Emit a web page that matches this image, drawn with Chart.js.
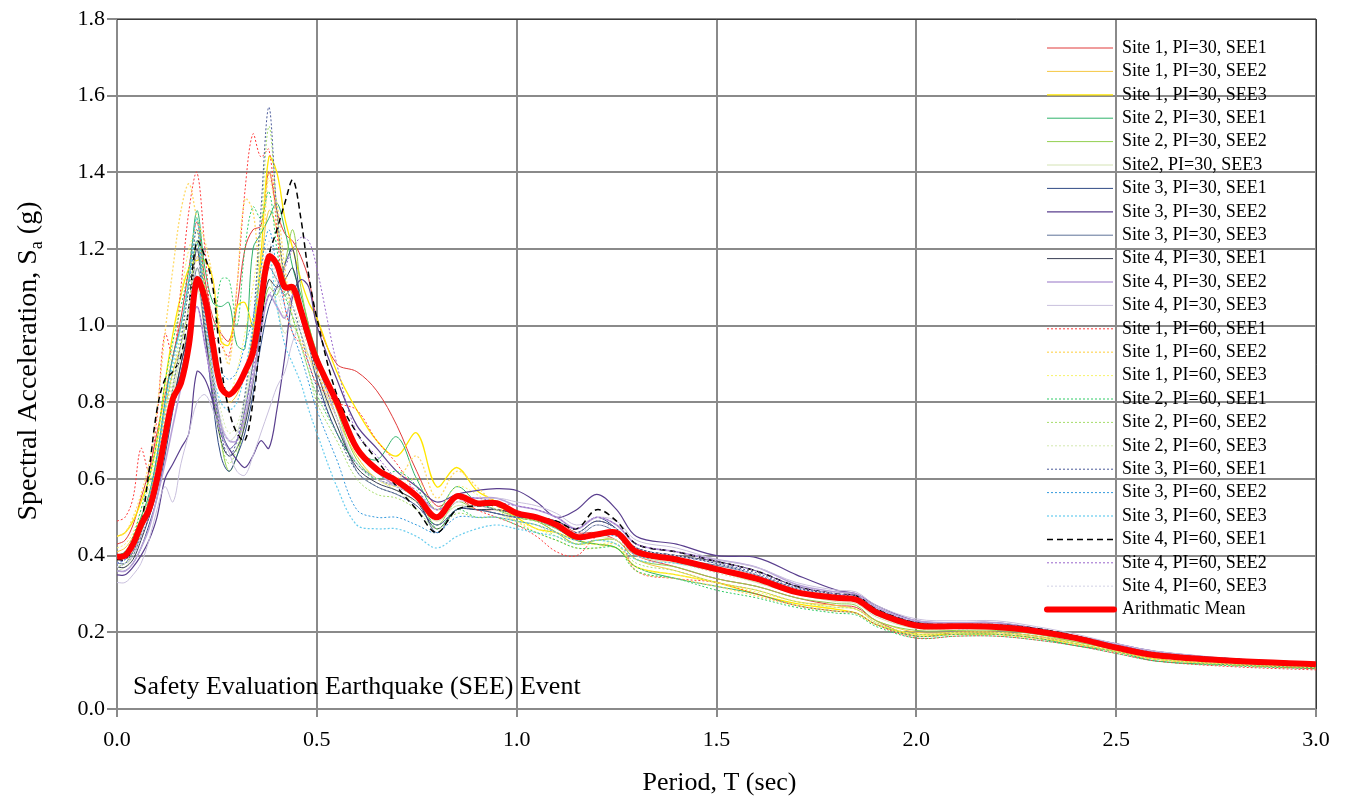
<!DOCTYPE html>
<html>
<head>
<meta charset="utf-8">
<script src="https://cdn.jsdelivr.net/npm/chart.js@4.4.0/dist/chart.umd.min.js"></script>
<style>
  html, body { margin: 0; padding: 0; background: #ffffff; }
  #wrap { width: 1350px; height: 797px; }
</style>
</head>
<body>
<div id="wrap"><canvas id="saChart" width="1350" height="797"></canvas></div>
<script>
// Period values (sec) shared by every spectrum
const periods = [0, 0.02, 0.04, 0.06, 0.08, 0.10, 0.12, 0.14, 0.16, 0.18, 0.20, 0.22, 0.24, 0.26, 0.28, 0.30, 0.32, 0.34, 0.36, 0.38,
    0.40, 0.42, 0.44, 0.46, 0.48, 0.50, 0.55, 0.60, 0.65, 0.70, 0.75, 0.80, 0.85, 0.90, 0.95, 1.00, 1.05, 1.10, 1.15, 1.20,
    1.25, 1.30, 1.40, 1.50, 1.60, 1.70, 1.80, 1.85, 1.90, 2.00, 2.10, 2.20, 2.30, 2.40, 2.50, 2.60, 2.80, 3.00];

// Spectral acceleration (g)
const s1pi30see1 = [0.43,0.44,0.48,0.55,0.62,0.72,0.82,0.92,1.02,1.15,1.27,1.12,1.02,0.98,0.96,1.05,1.20,1.25,1.26,1.40,1.30,1.24,1.22,1.18,1.12,1.02,0.90,0.88,0.83,0.74,0.62,0.53,0.55,0.52,0.52,0.51,0.50,0.49,0.46,0.46,0.44,0.40,0.37,0.34,0.32,0.29,0.27,0.265,0.23,0.19,0.20,0.20,0.19,0.17,0.15,0.13,0.115,0.105];
const s1pi30see2 = [0.41,0.42,0.45,0.50,0.55,0.65,0.78,0.88,0.95,1.05,1.18,1.10,0.98,0.86,0.80,0.82,0.88,0.98,1.15,1.30,1.25,1.12,1.08,1.02,0.95,0.88,0.76,0.66,0.60,0.58,0.55,0.50,0.56,0.54,0.53,0.50,0.49,0.46,0.43,0.44,0.44,0.39,0.36,0.33,0.31,0.28,0.27,0.26,0.23,0.20,0.20,0.20,0.19,0.175,0.155,0.135,0.12,0.11];
const s1pi30see3 = [0.45,0.46,0.49,0.54,0.60,0.70,0.85,0.98,1.08,1.15,1.17,1.17,1.12,0.96,0.95,1.05,1.06,1.00,1.18,1.44,1.40,1.28,1.20,1.12,1.06,1.02,0.88,0.78,0.70,0.66,0.72,0.58,0.63,0.57,0.54,0.50,0.47,0.46,0.44,0.43,0.42,0.37,0.35,0.33,0.30,0.275,0.26,0.25,0.22,0.195,0.195,0.195,0.185,0.17,0.15,0.13,0.115,0.108];
const s2pi30see1 = [0.40,0.41,0.44,0.50,0.56,0.66,0.80,0.92,1.00,1.12,1.30,1.15,1.06,1.05,1.06,0.95,0.94,1.20,1.24,1.28,1.32,1.25,1.15,1.08,1.00,0.92,0.80,0.68,0.65,0.71,0.60,0.52,0.58,0.54,0.52,0.50,0.49,0.47,0.44,0.43,0.42,0.37,0.34,0.32,0.30,0.27,0.255,0.25,0.22,0.19,0.195,0.195,0.185,0.165,0.15,0.125,0.115,0.108];
const s2pi30see2 = [0.37,0.38,0.41,0.46,0.52,0.60,0.72,0.84,0.95,1.05,1.22,1.02,0.85,0.70,0.62,0.66,0.75,0.85,1.00,1.10,1.08,1.16,1.25,1.10,1.00,0.93,0.78,0.65,0.60,0.58,0.55,0.48,0.54,0.52,0.52,0.50,0.49,0.46,0.43,0.44,0.44,0.39,0.37,0.34,0.32,0.29,0.275,0.27,0.23,0.205,0.205,0.205,0.195,0.175,0.155,0.135,0.12,0.112];
const s2pi30see3 = [0.36,0.37,0.40,0.45,0.50,0.58,0.70,0.82,0.92,1.00,1.10,0.98,0.85,0.75,0.70,0.72,0.80,0.90,1.02,1.12,1.05,0.98,1.02,0.98,0.92,0.86,0.74,0.64,0.60,0.57,0.54,0.49,0.53,0.52,0.51,0.49,0.48,0.46,0.44,0.45,0.44,0.40,0.38,0.36,0.33,0.30,0.28,0.275,0.24,0.21,0.21,0.21,0.20,0.18,0.16,0.14,0.125,0.115];
const s3pi30see1 = [0.36,0.36,0.38,0.42,0.48,0.55,0.66,0.78,0.90,0.98,1.13,0.98,0.80,0.66,0.62,0.66,0.72,0.82,0.95,1.05,1.10,1.16,1.20,1.05,0.95,0.86,0.72,0.64,0.60,0.58,0.55,0.46,0.52,0.52,0.51,0.50,0.50,0.49,0.47,0.50,0.47,0.42,0.40,0.38,0.35,0.315,0.30,0.29,0.26,0.225,0.22,0.22,0.21,0.19,0.165,0.145,0.13,0.12];
const s3pi30see2 = [0.35,0.35,0.37,0.40,0.44,0.50,0.60,0.64,0.68,0.72,0.88,0.86,0.80,0.72,0.68,0.65,0.63,0.66,0.70,0.68,0.78,0.92,1.08,1.12,1.10,1.00,0.86,0.74,0.68,0.62,0.58,0.54,0.56,0.57,0.575,0.57,0.54,0.50,0.52,0.56,0.52,0.45,0.43,0.40,0.395,0.35,0.31,0.30,0.27,0.23,0.225,0.225,0.21,0.19,0.17,0.15,0.13,0.12];
const s3pi30see3 = [0.38,0.38,0.40,0.45,0.50,0.58,0.70,0.80,0.88,0.98,1.15,1.05,0.88,0.74,0.68,0.70,0.78,0.90,1.05,1.15,1.12,1.08,1.10,1.02,0.95,0.90,0.76,0.62,0.58,0.56,0.53,0.48,0.52,0.53,0.52,0.51,0.50,0.48,0.45,0.48,0.46,0.41,0.39,0.375,0.35,0.31,0.295,0.29,0.255,0.22,0.22,0.22,0.205,0.185,0.165,0.145,0.13,0.12];
const s4pi30see1 = [0.37,0.37,0.39,0.44,0.50,0.57,0.68,0.80,0.90,1.00,1.20,1.00,0.82,0.70,0.66,0.68,0.74,0.85,1.00,1.12,1.10,1.12,1.15,1.05,0.96,0.88,0.74,0.63,0.59,0.57,0.54,0.47,0.52,0.52,0.52,0.51,0.50,0.48,0.46,0.49,0.47,0.42,0.40,0.385,0.36,0.32,0.30,0.295,0.26,0.225,0.22,0.22,0.21,0.19,0.17,0.145,0.13,0.12];
const s4pi30see2 = [0.36,0.36,0.38,0.42,0.47,0.55,0.64,0.74,0.84,0.95,1.05,0.95,0.84,0.74,0.70,0.70,0.76,0.86,0.98,1.08,1.05,1.02,1.08,1.04,0.98,0.92,0.80,0.68,0.62,0.58,0.56,0.52,0.55,0.55,0.55,0.53,0.52,0.50,0.47,0.50,0.48,0.43,0.41,0.39,0.37,0.325,0.305,0.30,0.265,0.23,0.225,0.225,0.21,0.19,0.17,0.15,0.13,0.12];
const s4pi30see3 = [0.33,0.33,0.35,0.38,0.44,0.52,0.58,0.54,0.64,0.72,0.80,0.82,0.78,0.72,0.67,0.62,0.61,0.66,0.72,0.78,0.84,0.88,0.96,1.00,0.98,0.92,0.76,0.64,0.60,0.58,0.56,0.50,0.54,0.54,0.55,0.54,0.53,0.51,0.48,0.50,0.49,0.44,0.42,0.39,0.37,0.33,0.31,0.305,0.27,0.235,0.23,0.23,0.215,0.195,0.17,0.15,0.13,0.12];
const s1pi60see1 = [0.49,0.50,0.55,0.68,0.62,0.76,0.98,0.92,1.10,1.30,1.40,1.20,0.98,0.95,0.92,1.10,1.35,1.50,1.44,1.46,1.25,1.05,0.98,0.95,0.90,0.85,0.80,0.78,0.70,0.64,0.56,0.50,0.55,0.52,0.50,0.48,0.45,0.41,0.40,0.45,0.46,0.36,0.34,0.33,0.30,0.27,0.255,0.25,0.22,0.185,0.19,0.19,0.18,0.165,0.145,0.125,0.11,0.102];
const s1pi60see2 = [0.45,0.46,0.50,0.56,0.64,0.78,0.98,1.15,1.30,1.37,1.28,1.22,1.12,0.98,0.90,1.10,1.33,1.30,1.12,1.40,1.32,1.15,1.02,0.96,0.92,0.88,0.78,0.68,0.62,0.60,0.66,0.55,0.62,0.58,0.53,0.49,0.46,0.44,0.42,0.42,0.43,0.36,0.34,0.32,0.295,0.27,0.255,0.25,0.22,0.19,0.195,0.195,0.185,0.17,0.15,0.13,0.115,0.108];
const s1pi60see3 = [0.42,0.43,0.46,0.52,0.58,0.68,0.82,0.95,1.08,1.20,1.25,1.10,0.96,0.86,0.82,0.88,0.98,1.10,1.25,1.38,1.28,1.12,1.05,1.00,0.94,0.88,0.76,0.66,0.60,0.58,0.60,0.52,0.58,0.56,0.52,0.49,0.47,0.45,0.43,0.43,0.43,0.37,0.35,0.33,0.305,0.28,0.265,0.26,0.225,0.195,0.2,0.2,0.19,0.17,0.15,0.13,0.117,0.11];
const s2pi60see1 = [0.40,0.41,0.45,0.52,0.60,0.70,0.85,0.96,1.05,1.15,1.28,1.10,0.98,1.12,1.12,1.00,1.20,1.31,1.28,1.35,1.20,1.08,1.02,0.95,0.88,0.82,0.72,0.64,0.60,0.62,0.58,0.47,0.52,0.50,0.50,0.48,0.46,0.44,0.42,0.42,0.42,0.36,0.34,0.31,0.29,0.265,0.25,0.245,0.215,0.185,0.19,0.19,0.18,0.165,0.145,0.125,0.112,0.105];
const s2pi60see2 = [0.39,0.40,0.43,0.48,0.55,0.64,0.76,0.88,0.98,1.10,1.25,1.05,0.85,0.70,0.64,0.68,0.80,0.98,1.25,1.52,1.30,1.10,1.02,0.95,0.88,0.80,0.70,0.60,0.56,0.55,0.52,0.47,0.51,0.50,0.50,0.49,0.48,0.45,0.43,0.44,0.43,0.38,0.36,0.33,0.31,0.28,0.265,0.26,0.225,0.195,0.2,0.2,0.19,0.17,0.15,0.13,0.117,0.11];
const s2pi60see3 = [0.38,0.39,0.42,0.47,0.53,0.62,0.74,0.86,0.95,1.05,1.15,1.00,0.88,0.78,0.72,0.74,0.82,0.92,1.05,1.18,1.10,1.02,1.00,0.95,0.88,0.82,0.72,0.62,0.58,0.56,0.54,0.50,0.53,0.53,0.52,0.50,0.49,0.47,0.45,0.46,0.45,0.40,0.38,0.355,0.33,0.30,0.285,0.28,0.245,0.21,0.21,0.21,0.20,0.18,0.16,0.14,0.125,0.115];
const s3pi60see1 = [0.37,0.38,0.41,0.46,0.52,0.60,0.72,0.84,0.96,1.10,1.25,1.05,0.86,0.72,0.66,0.70,0.82,1.00,1.30,1.57,1.30,1.12,1.05,0.98,0.90,0.84,0.72,0.62,0.58,0.56,0.53,0.48,0.52,0.52,0.51,0.50,0.50,0.48,0.46,0.49,0.47,0.42,0.40,0.38,0.355,0.315,0.30,0.295,0.26,0.225,0.22,0.22,0.21,0.19,0.165,0.145,0.13,0.12];
const s3pi60see2 = [0.38,0.39,0.42,0.48,0.55,0.66,0.80,0.92,1.00,1.12,1.22,1.02,0.92,0.88,0.86,0.88,0.95,1.02,1.15,1.25,1.15,1.05,0.98,0.92,0.85,0.78,0.65,0.52,0.50,0.50,0.48,0.46,0.50,0.50,0.50,0.49,0.48,0.46,0.44,0.45,0.45,0.40,0.39,0.37,0.34,0.31,0.295,0.29,0.255,0.22,0.215,0.215,0.205,0.185,0.165,0.14,0.125,0.115];
const s3pi60see3 = [0.38,0.39,0.42,0.47,0.54,0.64,0.78,0.90,1.00,1.12,1.28,1.02,0.88,0.80,0.78,0.80,0.88,1.00,1.12,1.18,1.05,0.95,0.90,0.85,0.78,0.72,0.58,0.48,0.47,0.47,0.45,0.42,0.45,0.47,0.48,0.47,0.46,0.45,0.43,0.44,0.43,0.39,0.38,0.36,0.335,0.30,0.285,0.28,0.245,0.215,0.21,0.21,0.20,0.18,0.16,0.14,0.123,0.113];
const s4pi60see1 = [0.39,0.39,0.42,0.48,0.62,0.78,0.86,0.88,0.92,1.05,1.22,1.18,1.10,0.90,0.78,0.72,0.70,0.80,0.98,1.18,1.25,1.32,1.38,1.28,1.13,1.02,0.82,0.72,0.65,0.58,0.52,0.46,0.52,0.53,0.53,0.51,0.50,0.49,0.47,0.52,0.49,0.43,0.41,0.385,0.36,0.32,0.30,0.295,0.26,0.225,0.22,0.22,0.21,0.19,0.165,0.145,0.13,0.12];
const s4pi60see2 = [0.38,0.39,0.41,0.45,0.50,0.58,0.68,0.78,0.86,0.95,1.05,0.95,0.82,0.72,0.68,0.70,0.78,0.88,1.00,1.08,1.10,1.15,1.20,1.23,1.22,1.15,0.90,0.72,0.66,0.60,0.57,0.52,0.55,0.55,0.54,0.53,0.52,0.50,0.47,0.50,0.48,0.43,0.41,0.385,0.36,0.32,0.30,0.295,0.26,0.225,0.22,0.22,0.21,0.19,0.168,0.148,0.13,0.12];
const s4pi60see3 = [0.37,0.38,0.40,0.45,0.51,0.60,0.72,0.84,0.94,1.05,1.18,1.02,0.88,0.76,0.70,0.72,0.80,0.92,1.08,1.22,1.12,1.05,1.05,1.00,0.94,0.88,0.76,0.64,0.60,0.58,0.55,0.50,0.54,0.54,0.53,0.51,0.50,0.48,0.46,0.48,0.47,0.42,0.40,0.38,0.35,0.315,0.30,0.29,0.255,0.22,0.22,0.22,0.205,0.185,0.165,0.145,0.128,0.118];
const meanSa = [0.397,0.40,0.43,0.48,0.52,0.60,0.71,0.81,0.85,0.95,1.12,1.07,0.95,0.84,0.82,0.84,0.88,0.93,1.06,1.18,1.16,1.10,1.10,1.04,0.97,0.91,0.80,0.68,0.625,0.595,0.555,0.50,0.555,0.537,0.537,0.511,0.50,0.48,0.449,0.455,0.46,0.41,0.39,0.365,0.34,0.305,0.29,0.285,0.252,0.218,0.216,0.214,0.203,0.185,0.16,0.14,0.125,0.117];

const seriesLabels = [
    'Site 1, PI=30, SEE1', 'Site 1, PI=30, SEE2', 'Site 1, PI=30, SEE3',
    'Site 2, PI=30, SEE1', 'Site 2, PI=30, SEE2', 'Site2, PI=30, SEE3',
    'Site 3, PI=30, SEE1', 'Site 3, PI=30, SEE2', 'Site 3, PI=30, SEE3',
    'Site 4, PI=30, SEE1', 'Site 4, PI=30, SEE2', 'Site 4, PI=30, SEE3',
    'Site 1, PI=60, SEE1', 'Site 1, PI=60, SEE2', 'Site 1, PI=60, SEE3',
    'Site 2, PI=60, SEE1', 'Site 2, PI=60, SEE2', 'Site 2, PI=60, SEE3',
    'Site 3, PI=60, SEE1', 'Site 3, PI=60, SEE2', 'Site 3, PI=60, SEE3',
    'Site 4, PI=60, SEE1', 'Site 4, PI=60, SEE2', 'Site 4, PI=60, SEE3'
];
const seriesValues = [
    s1pi30see1, s1pi30see2, s1pi30see3, s2pi30see1, s2pi30see2, s2pi30see3,
    s3pi30see1, s3pi30see2, s3pi30see3, s4pi30see1, s4pi30see2, s4pi30see3,
    s1pi60see1, s1pi60see2, s1pi60see3, s2pi60see1, s2pi60see2, s2pi60see3,
    s3pi60see1, s3pi60see2, s3pi60see3, s4pi60see1, s4pi60see2, s4pi60see3
];
const meanLabel = 'Arithmatic Mean';
const xTickValues = [0, 0.5, 1.0, 1.5, 2.0, 2.5, 3.0];
const yTickValues = [0, 0.2, 0.4, 0.6, 0.8, 1.0, 1.2, 1.4, 1.6, 1.8];

// line styles
const seriesColors = [
    '#e03a3a', '#f5c842', '#ffe600', '#2fb36a', '#92d050', '#d4e3b4',
    '#2f4a85', '#5a3f8e', '#5f7399', '#3a3f55', '#b8a2d8', '#c9c0dd',
    '#ff3b3b', '#ffd966', '#f7f36a', '#2fcc66', '#a6dd6a', '#d3e8ae',
    '#4a5a9a', '#3399dd', '#66ccee', '#000000', '#9966cc', '#dcdcec'
];
const seriesWidths = [1, 1, 1.3, 1, 1, 1, 1, 1.2, 1, 1, 1.6, 1, 1, 1.3, 1, 1, 1, 1, 1, 1, 1.2, 1.5, 1, 1.3];
const seriesDashes = seriesLabels.map((l, i) => i < 12 ? [] : (i === 21 ? [6, 4] : [2, 2]));

const SERIF = "'Liberation Serif', 'Times New Roman', serif";
const GRID = '#8a8a8a';

const datasets = seriesValues.map((vals, i) => ({
    label: seriesLabels[i],
    data: periods.map((t, k) => ({ x: t, y: vals[k] })),
    borderColor: seriesColors[i],
    borderWidth: seriesWidths[i],
    borderDash: seriesDashes[i],
    order: 30 - i
}));
datasets.push({
    label: meanLabel,
    data: periods.map((t, k) => ({ x: t, y: meanSa[k] })),
    borderColor: '#ff0000',
    borderWidth: 6,
    borderDash: [],
    order: 0
});

// legend, frame, axis titles and note drawn on the canvas
const decorations = {
    id: 'decorations',
    afterDatasetsDraw(chart) {
        const ctx = chart.ctx;
        const a = chart.chartArea;
        ctx.save();

        ctx.strokeStyle = '#3a3a3a';
        ctx.lineWidth = 1;
        ctx.beginPath();
        ctx.moveTo(a.left, a.top + 0.5);
        ctx.lineTo(a.right + 0.5, a.top + 0.5);
        ctx.lineTo(a.right + 0.5, a.bottom);
        ctx.stroke();

        // legend
        ctx.font = '18px ' + SERIF;
        ctx.textBaseline = 'middle';
        ctx.fillStyle = '#000';
        chart.data.datasets.forEach((ds, i) => {
            const y = 48 + i * 23.4;
            const isMean = ds.label === meanLabel;
            ctx.strokeStyle = ds.borderColor;
            ctx.lineWidth = ds.borderWidth;
            ctx.setLineDash(ds.borderDash);
            ctx.lineCap = isMean ? 'round' : 'butt';
            ctx.beginPath();
            ctx.moveTo(1047, y);
            ctx.lineTo(isMean ? 1114 : 1113, y);
            ctx.stroke();
            ctx.setLineDash([]);
            ctx.fillText(ds.label, 1122, y);
        });

        // note inside plot
        ctx.font = '26px ' + SERIF;
        ctx.textAlign = 'left';
        ctx.fillText('Safety Evaluation Earthquake (SEE) Event', 133, 687);

        // x title
        ctx.textAlign = 'center';
        ctx.fillText('Period, T (sec)', (a.left + a.right) / 2 + 3, 783);

        // y title with subscript
        const big = '28px ' + SERIF, small = '18px ' + SERIF;
        const p1 = 'Spectral Acceleration, S', p2 = 'a', p3 = ' (g)';
        ctx.font = big; const w1 = ctx.measureText(p1).width, w3 = ctx.measureText(p3).width;
        ctx.font = small; const w2 = ctx.measureText(p2).width;
        const total = w1 + w2 + w3;
        ctx.translate(29, 361);
        ctx.rotate(-Math.PI / 2);
        ctx.textAlign = 'left';
        const x0 = -total / 2;
        ctx.font = big; ctx.fillText(p1, x0, 0);
        ctx.font = small; ctx.fillText(p2, x0 + w1, 8);
        ctx.font = big; ctx.fillText(p3, x0 + w1 + w2, 0);
        ctx.restore();
    }
};

new Chart(document.getElementById('saChart'), {
    type: 'line',
    data: { datasets },
    options: {
        responsive: false,
        animation: false,
        devicePixelRatio: 1,
        layout: { padding: { left: 0, top: 19, right: 34, bottom: 0 } },
        elements: {
            point: { radius: 0, hoverRadius: 0 },
            line: { tension: 0.35, fill: false }
        },
        plugins: {
            legend: { display: false },
            tooltip: { enabled: false }
        },
        scales: {
            x: {
                type: 'linear',
                min: 0,
                max: 3,
                afterBuildTicks: s => { s.ticks = xTickValues.map(v => ({ value: v })); },
                afterFit: s => { s.height = 88; },
                grid: { color: GRID, lineWidth: 2, tickLength: 8, tickColor: GRID },
                border: { color: GRID, width: 2 },
                ticks: {
                    color: '#000',
                    padding: 10,
                    font: { family: SERIF, size: 22 },
                    callback: v => Number(v).toFixed(1)
                }
            },
            y: {
                type: 'linear',
                min: 0,
                max: 1.8,
                afterBuildTicks: s => { s.ticks = yTickValues.map(v => ({ value: v })); },
                afterFit: s => { s.width = 117; },
                grid: { color: GRID, lineWidth: 2, tickLength: 10, tickColor: GRID },
                border: { color: GRID, width: 2 },
                ticks: {
                    color: '#000',
                    padding: 2,
                    font: { family: SERIF, size: 22 },
                    callback: v => Number(v).toFixed(1)
                }
            }
        }
    },
    plugins: [decorations]
});
</script>
</body>
</html>
